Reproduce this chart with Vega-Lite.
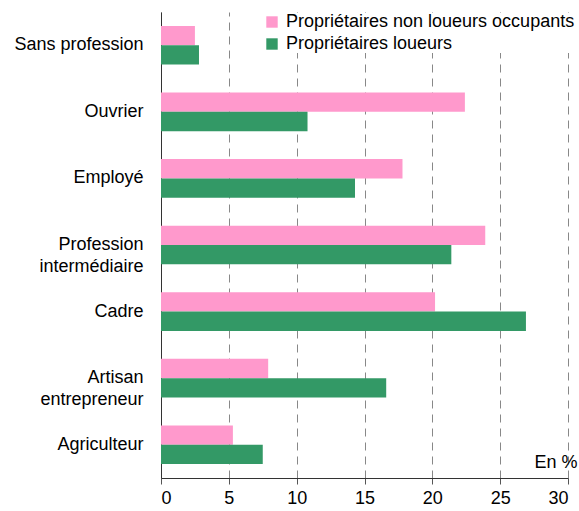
{
  "$schema": "https://vega.github.io/schema/vega-lite/v6.json",
  "width": 407,
  "height": 466,
  "autosize": {"type": "none"},
  "padding": {"left": 161, "top": 12, "right": 11, "bottom": 33},
  "background": "white",
  "config": {
    "view": {"stroke": null},
    "font": "Liberation Sans",
    "axis": {"labelFont": "Liberation Sans", "titleFont": "Liberation Sans"},
    "legend": {"labelFont": "Liberation Sans"}
  },
  "data": {
    "values": [
      {"cat": "Sans profession", "serie": "Propriétaires non loueurs occupants", "val": 2.5},
      {"cat": "Sans profession", "serie": "Propriétaires loueurs", "val": 2.8},
      {"cat": "Ouvrier", "serie": "Propriétaires non loueurs occupants", "val": 22.4},
      {"cat": "Ouvrier", "serie": "Propriétaires loueurs", "val": 10.8},
      {"cat": "Employé", "serie": "Propriétaires non loueurs occupants", "val": 17.8},
      {"cat": "Employé", "serie": "Propriétaires loueurs", "val": 14.3},
      {"cat": "Profession intermédiaire", "serie": "Propriétaires non loueurs occupants", "val": 23.9},
      {"cat": "Profession intermédiaire", "serie": "Propriétaires loueurs", "val": 21.4},
      {"cat": "Cadre", "serie": "Propriétaires non loueurs occupants", "val": 20.2},
      {"cat": "Cadre", "serie": "Propriétaires loueurs", "val": 26.9},
      {"cat": "Artisan entrepreneur", "serie": "Propriétaires non loueurs occupants", "val": 7.9},
      {"cat": "Artisan entrepreneur", "serie": "Propriétaires loueurs", "val": 16.6},
      {"cat": "Agriculteur", "serie": "Propriétaires non loueurs occupants", "val": 5.3},
      {"cat": "Agriculteur", "serie": "Propriétaires loueurs", "val": 7.5}
    ]
  },
  "mark": {"type": "bar"},
  "encoding": {
    "y": {
      "field": "cat",
      "type": "nominal",
      "sort": ["Sans profession", "Ouvrier", "Employé", "Profession intermédiaire", "Cadre", "Artisan entrepreneur", "Agriculteur"],
      "scale": {"paddingInner": 0.42, "paddingOuter": 0.21},
      "axis": {
        "title": null,
        "ticks": false,
        "labelPadding": 18,
        "labelFontSize": 18,
        "labelLimit": 200,
        "labelColor": "#000000",
        "labelLineHeight": 22,
        "domainColor": "#333333",
        "domainWidth": 1,
        "labelExpr": "datum.label == 'Profession intermédiaire' ? ['Profession', 'intermédiaire'] : datum.label == 'Artisan entrepreneur' ? ['Artisan', 'entrepreneur'] : datum.label"
      }
    },
    "yOffset": {
      "field": "serie",
      "type": "nominal",
      "sort": ["Propriétaires non loueurs occupants", "Propriétaires loueurs"],
      "scale": {"paddingInner": 0, "paddingOuter": 0}
    },
    "x": {
      "field": "val",
      "type": "quantitative",
      "scale": {"domain": [0, 30], "nice": false},
      "axis": {
        "values": [0, 5, 10, 15, 20, 25, 30],
        "title": "En %",
        "titleFontSize": 18,
        "titleFontWeight": "normal",
        "titleColor": "#000000",
        "titleAnchor": "end",
        "titleAlign": "right",
        "titleBaseline": "bottom",
        "titleX": 416,
        "titleY": -7,
        "labelFontSize": 18,
        "labelColor": "#000000",
        "labelPadding": 5,
        "tickSize": 6,
        "tickColor": "#555555",
        "domainColor": "#333333",
        "grid": true,
        "gridColor": "#888888",
        "gridDash": [8, 6],
        "gridWidth": 1
      }
    },
    "color": {
      "field": "serie",
      "type": "nominal",
      "sort": ["Propriétaires non loueurs occupants", "Propriétaires loueurs"],
      "scale": {"domain": ["Propriétaires non loueurs occupants", "Propriétaires loueurs"], "range": ["#FF99CC", "#339966"]},
      "legend": {
        "title": null,
        "orient": "none",
        "legendX": 102,
        "legendY": 1,
        "symbolType": "square",
        "symbolSize": 130,
        "symbolStrokeWidth": 0,
        "symbolOpacity": 1,
        "labelFontSize": 18,
        "labelLimit": 400,
        "labelColor": "#000000",
        "labelOffset": 5,
        "rowPadding": 4,
        "fillColor": "white"
      }
    }
  }
}
